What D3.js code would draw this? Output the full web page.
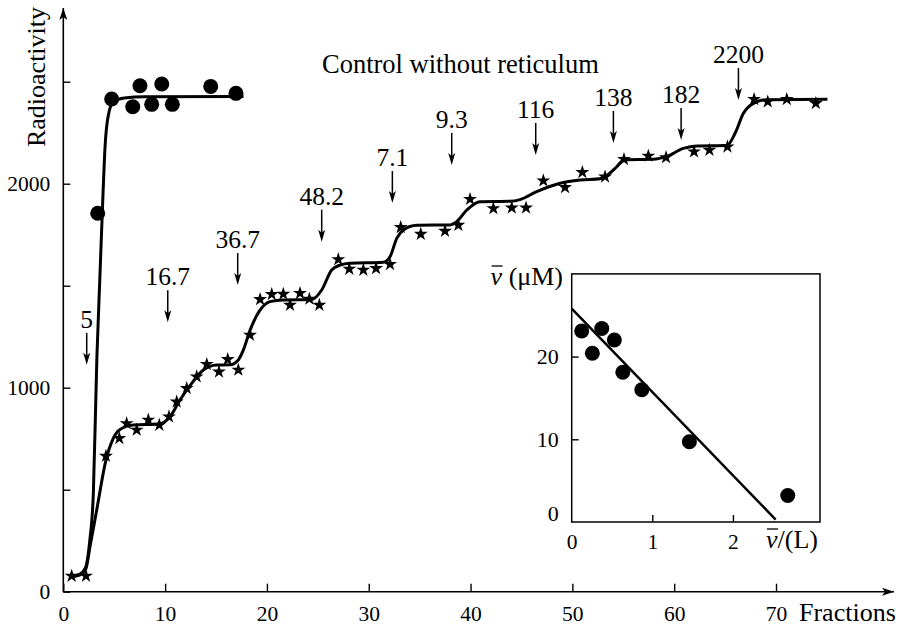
<!DOCTYPE html>
<html>
<head>
<meta charset="utf-8">
<script src="https://cdn.jsdelivr.net/npm/d3@7"></script>
<style>
  html, body { margin: 0; padding: 0; background: #fff; }
  svg { display: block; }
  text { font-family: "Liberation Serif", "Times New Roman", serif; fill: #000; }
</style>
</head>
<body>
<svg id="chart" width="902" height="631"></svg>
<script>
// ---------------- DATA ----------------
// Control without reticulum (filled circles)
const controlX = [3.38, 4.75, 6.82, 7.53, 8.68, 9.67, 10.71, 14.48, 16.96];
const controlY = [1855, 2415, 2377, 2480, 2389, 2489, 2389, 2477, 2443];
// fitted curve for control
const controlFitX = [0.8, 1.6, 2.2, 2.6, 2.95, 3.3, 3.6, 3.9, 4.1, 4.4, 4.9, 6, 8, 17.7];
const controlFitY = [75, 85, 120, 250, 480, 1150, 1550, 1950, 2180, 2330, 2400, 2420, 2426, 2428];

// Stars (with reticulum)
const starX = [0.82, 2.23, 4.19, 5.50, 6.22, 7.21, 8.35, 9.43, 10.38, 11.14, 12.12, 13.10, 14.09, 15.29, 16.15, 17.19,
  18.34, 19.33, 20.47, 21.61, 22.27, 23.25, 24.17, 25.15, 27.01, 28.09, 29.47, 30.72, 32.09, 33.14, 35.11, 37.49, 38.80,
  39.95, 42.24, 44.05, 45.45, 47.15, 49.28, 50.98, 53.21, 55.07, 57.46, 59.2, 61.95, 63.46, 65.23, 67.85, 69.19, 71.06, 73.91];
const starY = [77, 77, 665, 752, 825, 793, 842, 817, 858, 931, 997, 1054, 1115, 1078, 1139, 1087,
  1258, 1433, 1458, 1459, 1405, 1463, 1435, 1405, 1629, 1582, 1577, 1585, 1605, 1786, 1753, 1768, 1797,
  1924, 1879, 1882, 1882, 2015, 1982, 2056, 2034, 2120, 2136, 2129, 2157, 2165, 2181, 2414, 2402, 2414, 2394];
// fitted step curve for stars
const starFitX = [0.8, 1.6, 2.2, 2.62, 3.28, 4.19, 4.91, 5.57, 6.88, 9.4, 10.48, 11.46, 12.61, 13.75, 15.07, 16.37, 17.19,
  17.68, 18.34, 19.32, 20.3, 21.6, 24.4, 25.38, 26.36, 27.18, 28.16, 31.43, 32.09, 32.75, 33.4, 34.71, 38.0, 38.64,
  39.63, 40.93, 43.88, 44.86, 46.5, 48.79, 50.76, 52.72, 53.21, 54.36, 55.07, 57.96, 59.27, 60.9, 62.22, 65.17,
  65.98, 66.8, 67.78, 69.09, 75.05];
const starFitY = [75, 82, 110, 220, 400, 645, 752, 795, 817, 822, 858, 940, 1021, 1087, 1111, 1112, 1136,
  1184, 1282, 1380, 1422, 1430, 1432, 1479, 1577, 1601, 1610, 1615, 1642, 1732, 1773, 1796, 1798, 1814,
  1871, 1912, 1914, 1922, 1961, 2002, 2018, 2024, 2034, 2083, 2118, 2120, 2134, 2173, 2185, 2187,
  2247, 2345, 2394, 2412, 2414];

// concentration annotations (arrows)
const annoLabels = ["5", "16.7", "36.7", "48.2", "7.1", "9.3", "116", "138", "182", "2200"];
const annoX = [2.3, 10.26, 17.13, 25.38, 32.32, 38.15, 46.4, 54.03, 60.68, 66.31];
const annoTipY = [1112, 1321, 1503, 1716, 1905, 2092, 2141, 2200, 2214, 2410];

// axis ticks
const xTicks = [0, 10, 20, 30, 40, 50, 60, 70];
const yTicks = [0, 500, 1000, 1500, 2000, 2500];
const yTickLabels = [0, 1000, 2000];

// inset (Scatchard plot)
const insetX = [0.124, 0.256, 0.373, 0.529, 0.634, 0.87, 1.46, 2.68];
const insetY = [23.1, 20.4, 23.4, 22.0, 18.1, 16.0, 9.7, 3.2];
const insetFitX = [0, 2.53];
const insetFitY = [25.8, 0.3];
const insetXTicks = [0, 1, 2];
const insetYTicks = [0, 10, 20];

// ---------------- DRAW ----------------
const svg = d3.select("#chart");
const x = d3.scaleLinear().domain([0, 70]).range([63.3, 776]);
const y = d3.scaleLinear().domain([0, 2500]).range([591.7, 81.7]);

// arrow marker for axes
const defs = svg.append("defs");
defs.append("marker").attr("id", "axArrow").attr("viewBox", "0 0 12 8")
  .attr("refX", 12).attr("refY", 4).attr("markerWidth", 12).attr("markerHeight", 8)
  .attr("markerUnits", "userSpaceOnUse").attr("orient", "auto")
  .append("path").attr("d", "M0,0 L12,4 L0,8 L3,4 Z").attr("fill", "#000");

// axes lines
svg.append("line").attr("x1", x(0)).attr("y1", y(0)).attr("x2", 894).attr("y2", y(0))
  .attr("stroke", "#000").attr("stroke-width", 1.6).attr("marker-end", "url(#axArrow)");
svg.append("line").attr("x1", x(0)).attr("y1", y(0)).attr("x2", x(0)).attr("y2", 8)
  .attr("stroke", "#000").attr("stroke-width", 1.6).attr("marker-end", "url(#axArrow)");

const xAxis = d3.axisBottom(x).tickValues(xTicks).tickSizeInner(-8).tickSizeOuter(0).tickPadding(14)
  .tickFormat(d3.format("d"));
const gx = svg.append("g").attr("transform", `translate(0,${y(0)})`).call(xAxis);
gx.select(".domain").remove();
gx.selectAll("line").attr("stroke-width", 1.4);
gx.selectAll("text").style("font-size", "21.5px").style("font-family", "Liberation Serif, Times New Roman, serif");

const yAxis = d3.axisLeft(y).tickValues(yTicks).tickSizeInner(-7).tickSizeOuter(0).tickPadding(13)
  .tickFormat(d => yTickLabels.includes(d) ? d : "");
const gy = svg.append("g").attr("transform", `translate(${x(0)},0)`).call(yAxis);
gy.select(".domain").remove();
gy.selectAll("line").attr("stroke-width", 1.4);
gy.selectAll("text").style("font-size", "21.5px").style("font-family", "Liberation Serif, Times New Roman, serif");

// axis titles
svg.append("text").attr("transform", "translate(45,77) rotate(-90)").attr("text-anchor", "middle")
  .style("font-size", "26px").text("Radioactivity");
svg.append("text").attr("x", 799).attr("y", 621).style("font-size", "26px").text("Fractions");

// title
svg.append("text").attr("x", 322).attr("y", 73).style("font-size", "26.5px").text("Control without reticulum");

// curves
const line = d3.line().x(d => x(d[0])).y(d => y(d[1])).curve(d3.curveMonotoneX);
svg.append("path").datum(controlFitX.map((v, i) => [v, controlFitY[i]]))
  .attr("d", line).attr("fill", "none").attr("stroke", "#000").attr("stroke-width", 3);
svg.append("path").datum(starFitX.map((v, i) => [v, starFitY[i]]))
  .attr("d", line).attr("fill", "none").attr("stroke", "#000").attr("stroke-width", 3);

// circles
svg.append("g").selectAll("circle").data(controlX.map((v, i) => [v, controlY[i]])).join("circle")
  .attr("cx", d => x(d[0])).attr("cy", d => y(d[1])).attr("r", 7.5).attr("fill", "#000");

// stars
const star = d3.symbol().type(d3.symbolStar).size(60);
svg.append("g").selectAll("path").data(starX.map((v, i) => [v, starY[i]])).join("path")
  .attr("transform", d => `translate(${x(d[0])},${y(d[1])})`).attr("d", star).attr("fill", "#000");

// annotation arrows
const ag = svg.append("g");
annoLabels.forEach((lab, i) => {
  const ax = x(annoX[i]);
  const tip = y(annoTipY[i]);
  ag.append("line").attr("x1", ax).attr("x2", ax).attr("y1", tip - 32).attr("y2", tip - 6)
    .attr("stroke", "#000").attr("stroke-width", 1.5);
  ag.append("path").attr("d", `M${ax - 3.5},${tip - 12} L${ax},${tip} L${ax + 3.5},${tip - 12} L${ax},${tip - 9} Z`)
    .attr("fill", "#000");
  ag.append("text").attr("x", ax).attr("y", tip - 37).attr("text-anchor", "middle")
    .style("font-size", "25.5px").text(lab);
});

// ---------------- INSET ----------------
const ix = d3.scaleLinear().domain([0, 3.08]).range([571.7, 820]);
const iy = d3.scaleLinear().domain([0, 30]).range([522, 273.9]);
svg.append("rect").attr("x", ix(0)).attr("y", iy(30)).attr("width", ix(3.08) - ix(0)).attr("height", iy(0) - iy(30))
  .attr("fill", "none").attr("stroke", "#000").attr("stroke-width", 1.5);

const ixAxis = d3.axisBottom(ix).tickValues(insetXTicks).tickSizeInner(-7).tickSizeOuter(0).tickPadding(12)
  .tickFormat(d3.format("d"));
const gix = svg.append("g").attr("transform", `translate(0,${iy(0)})`).call(ixAxis);
gix.select(".domain").remove();
gix.selectAll("line").attr("stroke-width", 1.4).filter(d => d === 0).remove();
gix.selectAll("text").style("font-size", "21.5px").style("font-family", "Liberation Serif, Times New Roman, serif");

const iyAxis = d3.axisLeft(iy).tickValues(insetYTicks).tickSizeInner(-7).tickSizeOuter(0).tickPadding(13)
  .tickFormat(d3.format("d"));
const giy = svg.append("g").attr("transform", `translate(${ix(0)},0)`).call(iyAxis);
giy.select(".domain").remove();
giy.selectAll("line").attr("stroke-width", 1.4).filter(d => d === 0).remove();
giy.selectAll("text").style("font-size", "22px").style("font-family", "Liberation Serif, Times New Roman, serif");
giy.selectAll("text").filter(d => d === 0).attr("dy", "-0.05em");

svg.append("path").datum(insetFitX.map((v, i) => [v, insetFitY[i]]))
  .attr("d", d3.line().x(d => ix(d[0])).y(d => iy(d[1])))
  .attr("stroke", "#000").attr("stroke-width", 2.5).attr("fill", "none");
svg.append("g").selectAll("circle").data(insetX.map((v, i) => [v, insetY[i]])).join("circle")
  .attr("cx", d => ix(d[0])).attr("cy", d => iy(d[1])).attr("r", 7.5).attr("fill", "#000");

// inset axis labels (nu with overbar)
function nuBar(sel, xPos, yPos) {
  sel.append("line").attr("x1", xPos + 1).attr("x2", xPos + 12).attr("y1", yPos - 19).attr("y2", yPos - 19)
    .attr("stroke", "#000").attr("stroke-width", 1.3);
}
const t1 = svg.append("text").attr("x", 563).attr("y", 285).attr("text-anchor", "end").style("font-size", "26px");
t1.append("tspan").style("font-style", "italic").text("ν");
t1.append("tspan").text(" (μM)");
const t2 = svg.append("text").attr("x", 766).attr("y", 548).style("font-size", "26px");
t2.append("tspan").style("font-style", "italic").text("ν");
t2.append("tspan").text("/(L)");
const b1 = t1.node().getBBox();
nuBar(svg, b1.x, 285);
nuBar(svg, 766, 548);
</script>
</body>
</html>
